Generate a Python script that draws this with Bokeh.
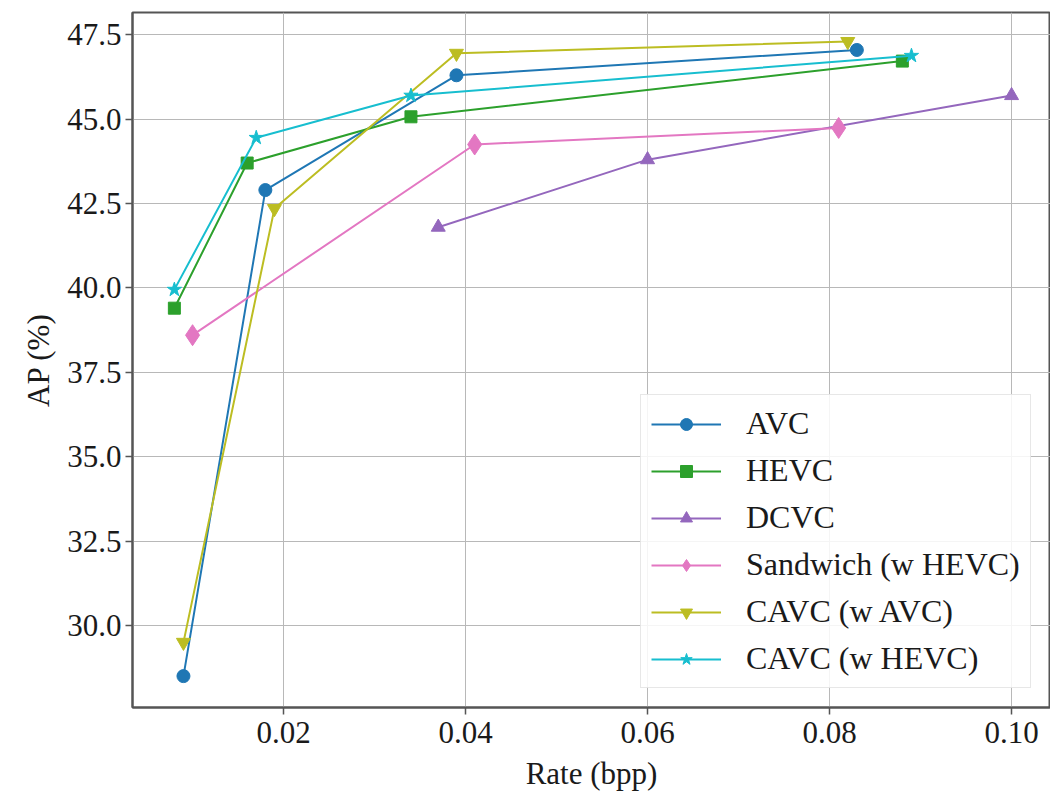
from bokeh.plotting import figure
from bokeh.models import Range1d, Legend, LegendItem, FixedTicker, NumeralTickFormatter
from bokeh.embed import file_html
from bokeh.resources import INLINE

# ---- data ----
avc_x = [0.009, 0.018, 0.039, 0.083]
avc_y = [28.5, 42.9, 46.3, 47.05]

hevc_x = [0.008, 0.016, 0.034, 0.088]
hevc_y = [39.4, 43.7, 45.07, 46.72]

dcvc_x = [0.037, 0.060, 0.100]
dcvc_y = [41.8, 43.8, 45.7]

sandwich_x = [0.010, 0.041, 0.081]
sandwich_y = [38.6, 44.25, 44.74]

cavc_avc_x = [0.009, 0.019, 0.039, 0.082]
cavc_avc_y = [29.5, 42.35, 46.95, 47.3]

cavc_hevc_x = [0.008, 0.017, 0.034, 0.089]
cavc_hevc_y = [39.95, 44.45, 45.7, 46.88]

x_ticks = [0.02, 0.04, 0.06, 0.08, 0.10]
y_ticks = [30.0, 32.5, 35.0, 37.5, 40.0, 42.5, 45.0, 47.5]

series = [
    ("AVC", avc_x, avc_y, "#1f77b4", "circle", 13),
    ("HEVC", hevc_x, hevc_y, "#2ca02c", "square", 12),
    ("DCVC", dcvc_x, dcvc_y, "#9467bd", "triangle", 14),
    ("Sandwich (w HEVC)", sandwich_x, sandwich_y, "#e377c2", "diamond", 21),
    ("CAVC (w AVC)", cavc_avc_x, cavc_avc_y, "#bcbd22", "inverted_triangle", 14),
    ("CAVC (w HEVC)", cavc_hevc_x, cavc_hevc_y, "#17becf", "star", 15),
]

FONT = "Liberation Serif"

p = figure(width=1050, height=793, output_backend="svg", toolbar_location=None,
           x_range=Range1d(0.0034, 0.10428), y_range=Range1d(27.57, 48.16),
           min_border_left=132, min_border_top=12, min_border_right=0, min_border_bottom=84)

p.background_fill_color = "white"
p.border_fill_color = "white"
p.outline_line_color = "#555555"
p.outline_line_width = 2

items = []
for name, xs, ys, color, marker, size in series:
    r1 = p.line(xs, ys, line_color=color, line_width=2)
    r2 = p.scatter(xs, ys, marker=marker, size=size, fill_color=color, line_color=color)
    items.append(LegendItem(label=name, renderers=[r1, r2]))

for ax in (p.xaxis[0], p.yaxis[0]):
    ax.axis_line_color = "#555555"
    ax.axis_line_width = 2
    ax.major_tick_line_color = "#555555"
    ax.major_tick_line_width = 1.5
    ax.major_tick_out = 7
    ax.major_tick_in = 0
    ax.minor_tick_line_color = None
    ax.major_label_text_font = FONT
    ax.major_label_text_font_size = "31px"
    ax.major_label_text_color = "#1a1a1a"
    ax.axis_label_text_font = FONT
    ax.axis_label_text_font_size = "31px"
    ax.axis_label_text_font_style = "normal"
    ax.axis_label_text_color = "#1a1a1a"

p.xaxis.ticker = FixedTicker(ticks=x_ticks)
p.yaxis.ticker = FixedTicker(ticks=y_ticks)
p.xaxis.formatter = NumeralTickFormatter(format="0.00")
p.yaxis.formatter = NumeralTickFormatter(format="0.0")
p.xaxis.axis_label = "Rate (bpp)"
p.yaxis.axis_label = "AP (%)"
p.xaxis.major_label_standoff = 7
p.yaxis.major_label_standoff = 4
p.xaxis.axis_label_standoff = 10
p.yaxis.axis_label_standoff = 8

p.xgrid.grid_line_color = "#b8b8b8"
p.ygrid.grid_line_color = "#b8b8b8"
p.xgrid.grid_line_width = 1
p.ygrid.grid_line_width = 1

legend = Legend(items=items, location=(508, 19))
legend.label_text_font = FONT
legend.label_text_font_size = "32px"
legend.label_text_color = "#1a1a1a"
legend.glyph_width = 70
legend.glyph_height = 30
legend.label_height = 30
legend.label_standoff = 25
legend.spacing = 10
legend.padding = 10
legend.margin = 0
legend.border_line_color = "#d0d0d0"
legend.border_line_width = 1
legend.background_fill_color = "white"
legend.background_fill_alpha = 0.85
p.add_layout(legend, "center")

open("out.html", "w").write(file_html(p, INLINE))
